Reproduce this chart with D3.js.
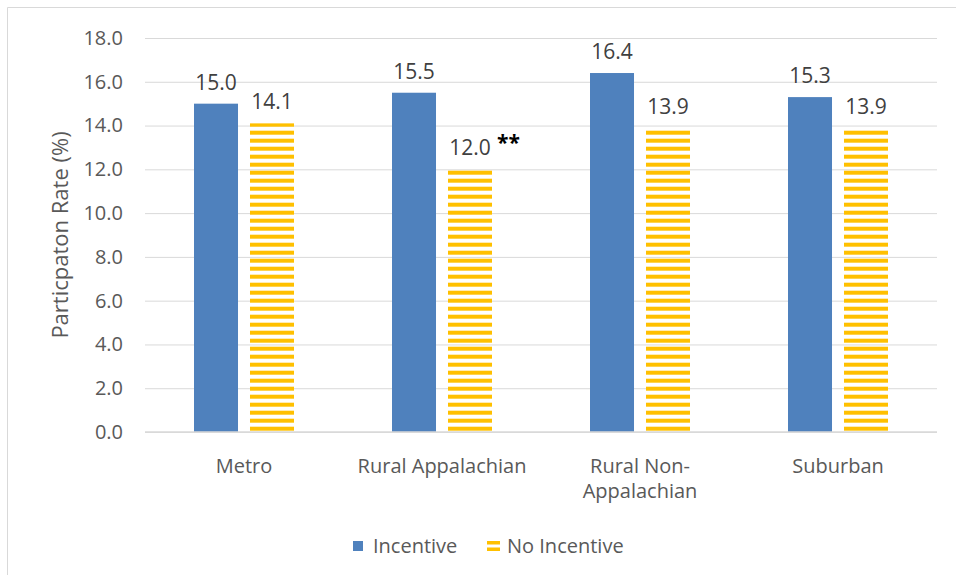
<!DOCTYPE html>
<html>
<head>
<meta charset="utf-8">
<script src="https://cdn.jsdelivr.net/npm/d3@7"></script>
<style>
  html, body { margin: 0; padding: 0; background: #fff; }
  svg { display: block; }
</style>
</head>
<body>
<svg id="chart" width="956" height="575" font-family="'Open Sans', sans-serif"></svg>
<script>
const categories = [['Metro'], ['Rural Appalachian'], ['Rural Non-', 'Appalachian'], ['Suburban']]
const series = ['Incentive', 'No Incentive']
const incentive = [15.0, 15.5, 16.4, 15.3]
const noIncentive = [14.1, 12.0, 13.9, 13.9]
const notes = ['', '**', '', '']
const yTicks = [0, 2, 4, 6, 8, 10, 12, 14, 16, 18]

const colors = { 'Incentive': '#4F81BD', 'No Incentive': '#FFC000' }
const width = 956
const height = 575
const margin = { top: 38, right: 19, bottom: 143, left: 145 }
const innerWidth = width - margin.left - margin.right
const innerHeight = height - margin.top - margin.bottom

const svg = d3.select('#chart')

// Outer frame: only left and top edges are visible
svg.append('path')
  .attr('d', `M7.5,${height} V7.5 H${width}`)
  .attr('fill', 'none').attr('stroke', '#d9d9d9')

// Striped fill for "No Incentive"
const defs = svg.append('defs')
const pat = defs.append('pattern')
  .attr('id', 'stripes')
  .attr('patternUnits', 'userSpaceOnUse')
  .attr('x', 0).attr('y', 4.7)
  .attr('width', 8).attr('height', 8)
pat.append('rect').attr('width', 8).attr('height', 4).attr('fill', colors['No Incentive'])

const rows = categories.map((c, i) => ({
  key: c.join(' '),
  lines: c,
  values: [
    { series: 'Incentive', value: incentive[i], note: '' },
    { series: 'No Incentive', value: noIncentive[i], note: notes[i] },
  ],
}))

const x = d3.scaleBand()
  .domain(rows.map((d) => d.key))
  .range([0, innerWidth])
  .padding(0)

const x1 = d3.scaleBand()
  .domain(series)
  .range([x.bandwidth() / 2 - 50, x.bandwidth() / 2 + 50])
  .paddingInner(0.214)

const y = d3.scaleLinear()
  .domain([0, 18])
  .range([innerHeight, 0])

const g = svg.append('g')
  .attr('transform', `translate(${margin.left},${margin.top})`)

// Grid
g.append('g')
  .attr('class', 'grid')
  .call(d3.axisLeft(y).tickValues(yTicks).tickSize(-innerWidth).tickFormat(''))
  .call((s) => s.select('.domain').remove())
  .call((s) => s.selectAll('text').remove())
  .call((s) => s.selectAll('line').attr('stroke', '#d9d9d9'))

// Y axis labels
g.append('g')
  .attr('class', 'axis')
  .call(d3.axisLeft(y).tickValues(yTicks).tickSize(0).tickPadding(22).tickFormat(d3.format('.1f')))
  .attr('font-family', null)
  .attr('font-size', 20)
  .call((s) => s.select('.domain').remove())
  .call((s) => s.selectAll('text').attr('fill', '#595959'))

// Bars
const groups = g.selectAll('.cat')
  .data(rows)
  .join('g')
  .attr('class', 'cat')
  .attr('transform', (d) => `translate(${x(d.key)},0)`)

groups.selectAll('rect')
  .data((d) => d.values)
  .join('rect')
  .attr('x', (d) => x1(d.series))
  .attr('y', (d) => y(d.value))
  .attr('width', x1.bandwidth())
  .attr('height', (d) => innerHeight - y(d.value))
  .attr('fill', (d) => d.series === 'Incentive' ? colors.Incentive : 'url(#stripes)')

// Value labels
groups.selectAll('.value')
  .data((d) => d.values)
  .join('text')
  .attr('class', 'value')
  .attr('x', (d) => x1(d.series) + x1.bandwidth() / 2)
  .attr('y', (d) => y(d.value) - 14)
  .attr('text-anchor', 'middle')
  .attr('font-size', 21)
  .attr('fill', '#404040')
  .text((d) => d.value.toFixed(1))

groups.selectAll('.note')
  .data((d) => d.values.filter((v) => v.note))
  .join('text')
  .attr('class', 'note')
  .attr('x', (d) => x1(d.series) + x1.bandwidth() / 2 + 27)
  .attr('y', (d) => y(d.value) - 19)
  .attr('font-size', 21)
  .attr('font-weight', 'bold')
  .attr('fill', '#000')
  .text((d) => d.note)

// X axis baseline
g.append('line')
  .attr('x1', 0).attr('x2', innerWidth)
  .attr('y1', innerHeight).attr('y2', innerHeight)
  .attr('stroke', '#d9d9d9').attr('stroke-width', 1.5)

// Category labels
groups.append('text')
  .attr('class', 'cat-label')
  .attr('x', x.bandwidth() / 2)
  .attr('y', innerHeight + 41)
  .attr('text-anchor', 'middle')
  .attr('fill', '#595959')
  .attr('font-size', 20)
  .selectAll('tspan')
  .data((d) => d.lines)
  .join('tspan')
  .attr('x', x.bandwidth() / 2)
  .attr('dy', (d, i) => i === 0 ? 0 : 25)
  .text((d) => d)

// Y axis title
svg.append('text')
  .attr('transform', `translate(68,${margin.top + innerHeight / 2}) rotate(-90)`)
  .attr('text-anchor', 'middle')
  .attr('fill', '#595959')
  .attr('font-size', 22)
  .text('Particpaton Rate (%)')

// Legend
const legend = svg.append('g').attr('transform', 'translate(353,546)')
legend.append('rect')
  .attr('x', 0).attr('y', -5).attr('width', 10).attr('height', 10)
  .attr('fill', colors.Incentive)
legend.append('text')
  .attr('x', 20).attr('y', 7)
  .attr('fill', '#595959').attr('font-size', 20)
  .text('Incentive')
const l2 = legend.append('g').attr('transform', 'translate(134,0)')
l2.append('rect').attr('x', 0).attr('y', -5).attr('width', 13).attr('height', 3.5).attr('fill', colors['No Incentive'])
l2.append('rect').attr('x', 0).attr('y', 1.5).attr('width', 13).attr('height', 3.5).attr('fill', colors['No Incentive'])
l2.append('text')
  .attr('x', 20).attr('y', 7)
  .attr('fill', '#595959').attr('font-size', 20)
  .text('No Incentive')
</script>
</body>
</html>
